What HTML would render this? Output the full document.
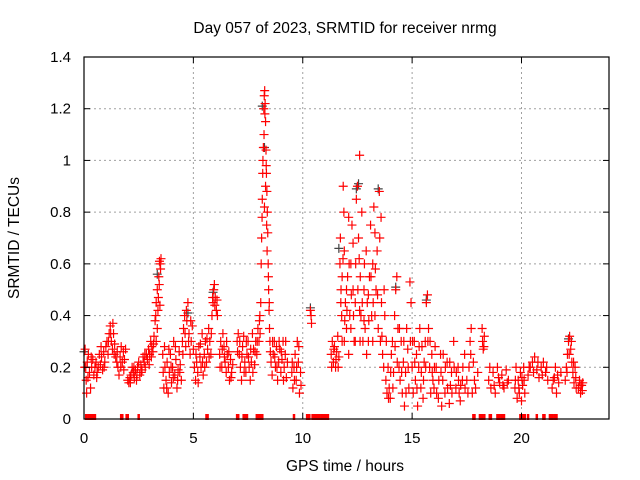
<!DOCTYPE html>
<html><head><meta charset="utf-8">
<style>
html,body{margin:0;padding:0;background:#fff;}
svg{display:block;font-family:"Liberation Sans",sans-serif;}
</style></head>
<body>
<svg id="chart" width="640" height="480" viewBox="0 0 640 480">
<text x="345" y="33" font-size="15.5" text-anchor="middle">Day 057 of 2023, SRMTID for receiver nrmg</text>
<text x="345" y="471" font-size="15.5" text-anchor="middle">GPS time / hours</text>
<text x="19" y="238" font-size="15.5" text-anchor="middle" transform="rotate(-90 19 238)">SRMTID / TECUs</text>
<g id="grid"></g>
<g id="marks"></g>
<g id="axes"></g>
</svg>
<script>
const xTicks = [0, 5, 10, 15, 20];
const yTicks = [0, 0.2, 0.4, 0.6, 0.8, 1, 1.2, 1.4];
const yTickLabels = ["0", "0.2", "0.4", "0.6", "0.8", "1", "1.2", "1.4"];
const zeroHours = [0.1,0.2,0.3,0.4,0.5,1.7,1.75,1.95,2.0,2.5,5.6,5.65,7.0,7.05,7.3,7.35,7.45,7.9,7.95,8.05,8.15,9.6,10.2,10.25,10.3,10.45,10.55,10.65,10.75,10.85,10.95,11.05,11.15,17.8,17.85,18.1,18.2,18.3,18.55,18.6,18.9,19.0,19.1,19.2,19.95,20.0,20.05,20.15,20.3,20.7,21.0,21.05,21.3,21.4,21.5,21.6];
const grayPoints = [[0.05,0.25],[3.4,0.55],[4.8,0.4],[8.2,1.2],[8.3,1.04],[12.6,0.9],[12.5,0.88],[13.5,0.88],[11.7,0.65],[14.3,0.5],[15.7,0.45],[22.2,0.3],[10.4,0.42],[5.95,0.48]];
const redPoints = [
[0.05,.27],[0.08,.2],[0.1,.15],[0.12,.1],[0.15,.22],[0.2,.25],[0.25,.18],[0.3,.12],[0.35,.2],[0.4,.23],[0.45,.17],[0.5,.2],[0.55,.22],[0.6,.18],[0.65,.2],[0.7,.25],[0.75,.21],[0.8,.24],[0.85,.19],[0.9,.26],[0.95,.22],
[1.0,.28],[1.05,.3],[1.1,.25],[1.15,.33],[1.2,.36],[1.25,.3],[1.3,.27],[1.35,.33],[1.4,.29],[1.45,.24],[1.5,.22],[1.55,.2],[1.6,.17],[1.65,.24],[1.7,.28],[1.75,.22],[1.8,.26],[1.85,.23],[1.9,.27],
[2.0,.15],[2.05,.14],[2.1,.16],[2.15,.17],[2.2,.2],[2.25,.18],[2.3,.16],[2.35,.19],[2.4,.15],[2.45,.2],[2.5,.22],[2.55,.17],[2.6,.21],[2.65,.19],[2.7,.24],[2.75,.22],[2.8,.2],[2.85,.25],[2.9,.23],[2.95,.27],[3.0,.25],[3.05,.3],[3.1,.28],[3.15,.26],
[3.2,.32],[3.25,.38],[3.3,.45],[3.35,.5],[3.38,.42],[3.4,.47],[3.42,.55],[3.45,.61],[3.48,.6],[3.5,.58],[3.52,.62],[3.3,.3],[3.35,.35],
[3.6,.25],[3.62,.18],[3.65,.12],[3.7,.2],[3.75,.15],[3.8,.22],[3.85,.1],[3.9,.18],[3.95,.25],[4.0,.14],[4.05,.2],[4.1,.3],[4.15,.17],[4.2,.23],[4.25,.12],[4.3,.19],[4.35,.26],[4.4,.21],[4.45,.15],
[4.5,.3],[4.55,.35],[4.6,.4],[4.65,.28],[4.7,.38],[4.75,.45],[4.8,.33],[4.85,.25],[4.9,.3],[4.95,.36],[5.0,.27],
[5.05,.2],[5.1,.15],[5.15,.22],[5.2,.18],[5.25,.28],[5.3,.24],[5.35,.2],[5.4,.33],[5.45,.17],[5.5,.25],[5.55,.3],[5.6,.22],[5.65,.27],[5.7,.35],[5.75,.3],[5.8,.25],
[5.85,.4],[5.9,.45],[5.93,.5],[5.96,.52],[6.0,.47],[6.05,.42],[6.1,.4],
[6.2,.25],[6.25,.3],[6.3,.2],[6.35,.33],[6.4,.28],[6.45,.22],[6.5,.18],[6.55,.25],[6.6,.2],[6.65,.15],[6.7,.23],[6.75,.18],[6.8,.21],
[7.0,.3],[7.05,.33],[7.1,.25],[7.15,.2],[7.2,.15],[7.25,.28],[7.3,.32],[7.35,.22],[7.4,.18],[7.45,.25],[7.5,.3],[7.55,.2],[7.6,.15],[7.65,.22],[7.7,.33],[7.75,.27],[7.8,.21],[7.85,.3],[7.9,.25],[7.95,.35],
[8.0,.3],[8.02,.38],[8.05,.33],[8.08,.45],[8.1,.6],[8.12,.7],[8.15,.85],[8.17,.95],[8.2,1.05],[8.22,1.2],[8.24,1.25],[8.26,1.27],[8.28,1.22],[8.3,1.15],[8.32,1.04],[8.34,.95],[8.36,.88],[8.38,.8],[8.4,.72],[8.42,.6],[8.44,.5],[8.46,.42],[8.48,.35],[8.3,.9],[8.25,.82],[8.35,.75],
[8.5,.3],[8.55,.22],[8.6,.17],[8.65,.25],[8.7,.3],[8.75,.2],[8.8,.28],[8.85,.15],[8.9,.22],[8.95,.27],[9.0,.18],[9.05,.23],[9.1,.3],[9.15,.2],[9.2,.25],[9.25,.16],[9.3,.22],[9.5,.18],[9.55,.12],[9.6,.2],[9.65,.25],[9.7,.15],[9.75,.3],[9.8,.22],[9.85,.1],[9.9,.18],
[10.35,.42],[10.38,.4],[10.4,.37],
[11.3,.25],[11.35,.3],[11.4,.22],[11.45,.28],[11.5,.2],[11.55,.26],[11.6,.32],[11.65,.24],
[11.7,.6],[11.72,.7],[11.75,.5],[11.78,.4],[11.8,.3],[11.85,.9],[11.88,.8],[11.9,.65],[11.95,.45],[12.0,.35],[12.05,.55],[12.1,.25],[12.15,.4],[12.2,.6],[12.25,.75],[12.3,.5],[12.35,.3],[12.4,.45],[12.45,.85],[12.5,.9],[12.55,.7],[12.58,.62],[12.6,1.02],[12.63,.55],[12.66,.4],[12.7,.8],[12.75,.3],[12.8,.5],[12.85,.35],[12.9,.65],[12.95,.45],[13.0,.3],[13.05,.55],[13.1,.75],[13.15,.4],[13.2,.6],[13.25,.82],[13.3,.72],[13.35,.5],[13.4,.65],[13.45,.35],[13.5,.88],[13.55,.3],[13.6,.45],[13.65,.25],[13.7,.2],[13.75,.4],[11.9,.3],[12.0,.5],[12.2,.35],[12.4,.3],[12.6,.42],[12.8,.38],[13.0,.48],[13.2,.3],[13.3,.4],[12.3,.68],[12.1,.78],[11.8,.55],
[13.8,.15],[13.85,.1],[13.9,.2],[13.95,.12],[14.0,.08],[14.05,.25],[14.1,.3],[14.15,.18],[14.2,.4],[14.25,.5],[14.3,.55],[14.35,.35],[14.4,.2],[14.45,.15],[14.5,.3],[14.55,.1],[14.6,.22],[14.65,.05],[14.7,.18],[14.75,.35],[14.8,.27],[14.85,.12],[14.9,.53],[14.95,.45],[15.0,.2],
[15.05,.1],[15.1,.3],[15.15,.15],[15.2,.25],[15.25,.05],[15.3,.2],[15.35,.35],[15.4,.12],[15.45,.28],[15.5,.08],[15.55,.22],[15.6,.3],[15.65,.45],[15.7,.48],[15.75,.35],[15.8,.2],[15.85,.1],[15.9,.25],[15.95,.15],
[16.0,.12],[16.1,.2],[16.2,.08],[16.3,.25],[16.4,.15],[16.5,.1],[16.6,.22],[16.7,.06],[16.8,.18],[16.9,.3],[17.0,.12],[17.1,.2],[17.2,.07],[17.3,.15],[17.4,.25],[16.05,.28],[16.35,.05],[16.75,.13],[17.15,.1],
[17.5,.15],[17.6,.2],[17.65,.3],[17.7,.35],[17.75,.1],[17.8,.22],[17.9,.12],[18.0,.18],
[18.2,.35],[18.22,.3],[18.25,.27],[18.3,.32],
[18.5,.15],[18.6,.12],[18.7,.18],[18.8,.1],[18.9,.2],[19.0,.14],[19.1,.17],[19.2,.12],[19.3,.19],[19.4,.15],
[19.7,.12],[19.75,.2],[19.8,.08],[19.85,.15],[19.9,.1],[19.95,.18],[20.0,.07],[20.05,.13],[20.1,.2],[20.15,.1],
[20.3,.17],[20.4,.2],[20.5,.22],[20.6,.24],[20.7,.19],[20.8,.16],[20.9,.2],[21.0,.22],[21.1,.18],[21.2,.15],
[21.4,.12],[21.5,.16],[21.55,.2],[21.6,.1],[21.7,.14],[21.8,.18],
[22.0,.15],[22.05,.2],[22.1,.25],[22.15,.3],[22.2,.32],[22.25,.27],[22.3,.22],[22.35,.18],[22.4,.14],[22.45,.2],[22.5,.12],
[22.6,.12],[22.65,.15],[22.7,.1],[22.75,.13],[22.8,.14],
[0.03,.2],[0.18,.16],[0.33,.24],[0.58,.16],[0.78,.28],[0.92,.2],[1.12,.3],[1.22,.33],[1.32,.37],[1.38,.25],[1.52,.26],[1.68,.2],[1.82,.19],
[2.12,.14],[2.28,.2],[2.42,.17],[2.62,.18],[2.78,.25],[2.98,.21],[3.08,.24],[3.18,.29],[3.28,.4],[3.44,.52],[3.47,.44],
[3.68,.28],[3.78,.12],[3.88,.27],[3.98,.2],[4.08,.16],[4.18,.28],[4.28,.15],[4.38,.18],[4.52,.25],[4.62,.33],[4.68,.42],[4.78,.3],[4.88,.38],
[5.12,.25],[5.22,.14],[5.32,.29],[5.42,.22],[5.52,.2],[5.62,.31],[5.72,.24],[5.82,.33],[5.88,.47],[5.98,.44],[6.08,.46],
[6.22,.2],[6.32,.27],[6.42,.24],[6.52,.3],[6.62,.26],[6.72,.16],[7.02,.26],[7.12,.3],[7.22,.24],[7.32,.18],[7.42,.3],[7.52,.24],[7.62,.27],[7.72,.18],[7.82,.26],[7.92,.3],
[8.04,.4],[8.14,.78],[8.18,1.0],[8.23,1.1],[8.27,1.18],[8.33,.98],[8.37,.65],[8.43,.55],[8.47,.45],
[8.52,.26],[8.62,.3],[8.72,.24],[8.82,.2],[8.92,.3],[9.02,.26],[9.12,.15],[9.22,.3],[9.52,.22],[9.62,.15],[9.72,.2],[9.82,.28],[9.92,.13],
[11.32,.2],[11.42,.27],[11.52,.23],[11.62,.2],[11.74,.45],[11.84,.62],[11.92,.38],[12.02,.42],[12.12,.6],[12.22,.48],[12.32,.4],[12.42,.6],[12.52,.5],[12.62,.3],[12.72,.45],[12.82,.6],[12.92,.25],[13.02,.38],[13.12,.55],[13.22,.45],[13.32,.58],[13.42,.48],[13.52,.7],[13.58,.78],[13.62,.32],[13.72,.5],
[13.82,.3],[13.92,.08],[14.02,.18],[14.12,.12],[14.22,.28],[14.32,.22],[14.42,.35],[14.52,.18],[14.62,.3],[14.72,.1],[14.82,.2],[14.92,.3],
[15.02,.3],[15.12,.22],[15.22,.12],[15.32,.28],[15.42,.18],[15.52,.15],[15.62,.2],[15.72,.3],[15.82,.3],[15.92,.18],
[16.02,.2],[16.12,.1],[16.22,.15],[16.32,.18],[16.42,.25],[16.52,.2],[16.62,.12],[16.72,.22],[16.82,.1],[16.92,.2],[17.02,.18],[17.12,.15],[17.22,.13],[17.32,.2],[17.42,.12],
[17.55,.1],[17.68,.25],[17.85,.15],[18.28,.28],[18.55,.2],[18.75,.13],[18.95,.16],[19.15,.13],[19.35,.14],[19.72,.15],[19.88,.12],[20.02,.16],[20.12,.15],
[20.35,.2],[20.55,.18],[20.75,.22],[20.95,.17],[21.15,.2],[21.45,.15],[21.65,.17],[22.08,.18],[22.18,.25],[22.28,.3],[22.38,.22],[22.48,.16],[22.68,.13],[22.78,.11]
];

const NS = "http://www.w3.org/2000/svg";
const L = 84, R = 609, T = 57, B = 419, XMAX = 24, YMAX = 1.4;
function xs(h){ return L + (R - L) * h / XMAX; }
function ys(v){ return B - (B - T) * v / YMAX; }
function mk(tag, attrs, parent){
  const e = document.createElementNS(NS, tag);
  for (const k in attrs) e.setAttribute(k, attrs[k]);
  parent.appendChild(e);
  return e;
}
const grid = document.getElementById('grid');
const marks = document.getElementById('marks');
const axes = document.getElementById('axes');

yTicks.forEach((v, i) => {
  const y = ys(v);
  if (v > 0 && v < YMAX) {
    const g = mk('line', {x1: L, x2: R, y1: y, y2: y, stroke: '#a0a0a0', 'stroke-dasharray': '2,3', 'stroke-width': 1}, grid);
    
    
  }
  const t1 = mk('line', {x1: L, x2: L + 6, y1: y, y2: y, stroke: '#000'}, axes);
  
  
  const t2 = mk('line', {x1: R - 6, x2: R, y1: y, y2: y, stroke: '#000'}, axes);
  
  
  const lb = mk('text', {x: 71, y: y + 5, 'font-size': 15, 'text-anchor': 'end'}, axes);
  lb.textContent = yTickLabels[i];
  
  
});
xTicks.forEach(h => {
  const x = xs(h);
  if (h > 0) {
    const g = mk('line', {x1: x, x2: x, y1: T, y2: B, stroke: '#a0a0a0', 'stroke-dasharray': '2,3', 'stroke-width': 1}, grid);
    
    
  }
  const t1 = mk('line', {x1: x, x2: x, y1: B, y2: B - 6, stroke: '#000'}, axes);
  
  
  const t2 = mk('line', {x1: x, x2: x, y1: T, y2: T + 6, stroke: '#000'}, axes);
  
  
  const lb = mk('text', {x: x, y: 443, 'font-size': 15, 'text-anchor': 'middle'}, axes);
  lb.textContent = String(h);
  
  
});
const frame = mk('rect', {x: L, y: T, width: R - L, height: B - T, fill: 'none', stroke: '#000', 'stroke-width': 1.2}, axes);



function cross(h, v, color){
  const x = xs(h), y = ys(v);
  const p = mk('path', {d: `M${x-4.5},${y}H${x+4.5}M${x},${y-4.5}V${y+4.5}`, stroke: color, 'stroke-width': 1.2, fill: 'none'}, marks);
  return p;
}
grayPoints.forEach(p => {
  const c = cross(p[0] - 0.05, p[1] + 0.01, '#444');
  
  
});
redPoints.forEach(p => {
  const c = cross(p[0], p[1], '#ff0000');
  
  
});
zeroHours.forEach(h => {
  const x = xs(h);
  const c = mk('line', {x1: x, x2: x, y1: B - 5, y2: B + 1, stroke: '#ff0000', 'stroke-width': 2.5}, marks);
  
  
});
</script>
</body></html>
